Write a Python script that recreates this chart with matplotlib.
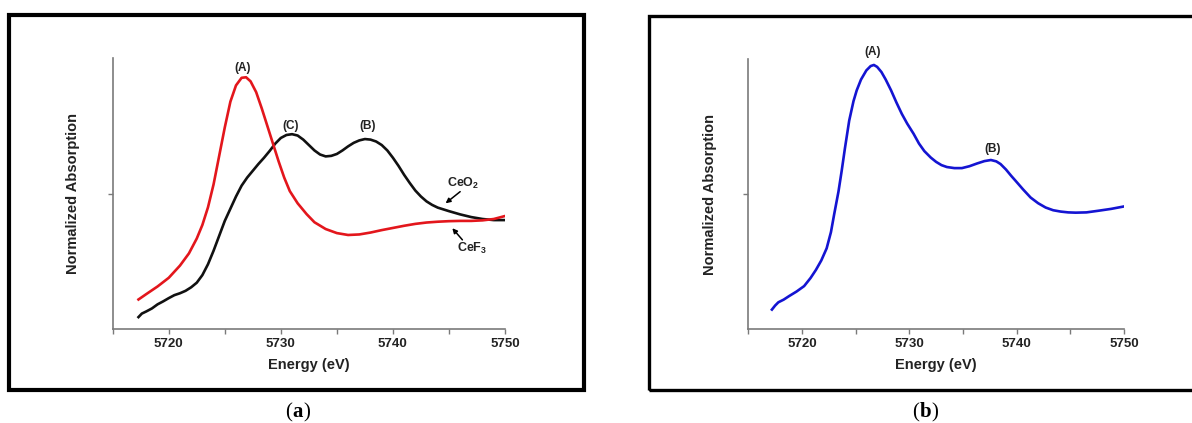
import matplotlib
matplotlib.use("Agg")
import matplotlib.pyplot as plt
from matplotlib.patches import Rectangle
from matplotlib.ticker import MultipleLocator, FixedLocator, NullFormatter

plt.rcParams['font.family'] = ['Liberation Sans', 'DejaVu Sans']
plt.rcParams['font.weight'] = 'bold'
plt.rcParams['mathtext.fontset'] = 'custom'
plt.rcParams['mathtext.rm'] = 'Liberation Sans:bold'
plt.rcParams['mathtext.bf'] = 'Liberation Sans:bold'
plt.rcParams['mathtext.it'] = 'Liberation Sans:bold:italic'
plt.rcParams['mathtext.default'] = 'rm'

# CeF3 reference (red), Ce L3-edge XANES
cef3_energy = [5717.3, 5718.0, 5719.0, 5720.0, 5721.0, 5721.8, 5722.5, 5723.0, 5723.5,
               5724.0, 5724.5, 5725.0, 5725.5, 5726.0, 5726.5, 5726.9, 5727.3, 5727.8,
               5728.3, 5728.8, 5729.3, 5729.8, 5730.3, 5730.8, 5731.5, 5732.3, 5733.0,
               5734.0, 5735.0, 5736.0, 5737.0, 5738.0, 5739.0, 5740.0, 5741.0, 5742.0,
               5743.0, 5744.0, 5745.0, 5746.0, 5747.0, 5748.0, 5749.0, 5750.0]
cef3_abs = [0.110, 0.130, 0.158, 0.190, 0.235, 0.280, 0.335, 0.385, 0.450,
            0.535, 0.640, 0.745, 0.840, 0.900, 0.928, 0.930, 0.915, 0.875,
            0.815, 0.750, 0.685, 0.620, 0.560, 0.510, 0.465, 0.425, 0.395,
            0.370, 0.355, 0.348, 0.350, 0.357, 0.366, 0.374, 0.382, 0.389,
            0.394, 0.397, 0.399, 0.400, 0.400, 0.402, 0.407, 0.418]

# CeO2 reference (black)
ceo2_energy = [5717.3, 5717.6, 5718.0, 5718.5, 5719.0, 5719.5, 5720.0, 5720.5, 5721.0,
               5721.5, 5722.0, 5722.5, 5723.0, 5723.5, 5724.0, 5724.5, 5725.0, 5725.5,
               5726.0, 5726.5, 5727.0, 5727.5, 5728.0, 5728.5, 5729.0, 5729.5, 5730.0,
               5730.5, 5731.0, 5731.5, 5732.0, 5732.5, 5733.0, 5733.5, 5734.0, 5734.5,
               5735.0, 5735.5, 5736.0, 5736.5, 5737.0, 5737.5, 5738.0, 5738.5, 5739.0,
               5739.5, 5740.0, 5740.5, 5741.0, 5741.5, 5742.0, 5742.5, 5743.0, 5743.5,
               5744.0, 5745.0, 5746.0, 5747.0, 5748.0, 5749.0, 5750.0]
ceo2_abs = [0.045, 0.058, 0.066, 0.077, 0.092, 0.103, 0.115, 0.126, 0.133,
            0.142, 0.155, 0.172, 0.200, 0.240, 0.290, 0.345, 0.400, 0.445,
            0.490, 0.530, 0.560, 0.585, 0.610, 0.633, 0.658, 0.685, 0.706,
            0.717, 0.720, 0.715, 0.700, 0.680, 0.660, 0.645, 0.638, 0.640,
            0.647, 0.660, 0.675, 0.688, 0.697, 0.702, 0.700, 0.693, 0.680,
            0.660, 0.633, 0.603, 0.570, 0.540, 0.512, 0.490, 0.472, 0.459,
            0.449, 0.436, 0.424, 0.414, 0.407, 0.403, 0.403]

# sample spectrum (blue)
sample_energy = [5717.2, 5717.5, 5717.8, 5718.3, 5718.8, 5719.5, 5720.2, 5720.8, 5721.3,
                 5721.8, 5722.3, 5722.7, 5723.0, 5723.4, 5723.7, 5724.0, 5724.4, 5724.8,
                 5725.1, 5725.5, 5726.0, 5726.4, 5726.7, 5727.0, 5727.4, 5727.8, 5728.3,
                 5728.8, 5729.3, 5729.8, 5730.4, 5730.9, 5731.4, 5732.0, 5732.5, 5733.0,
                 5733.5, 5734.2, 5734.9, 5735.6, 5736.3, 5737.0, 5737.6, 5738.1, 5738.5,
                 5739.0, 5739.5, 5739.9, 5740.6, 5741.3, 5742.0, 5742.7, 5743.4, 5744.1,
                 5744.8, 5745.5, 5746.5, 5747.6, 5748.8, 5750.0]
sample_abs = [0.073, 0.088, 0.100, 0.110, 0.123, 0.140, 0.160, 0.190, 0.220,
              0.255, 0.300, 0.360, 0.426, 0.510, 0.587, 0.670, 0.773, 0.845,
              0.885, 0.925, 0.959, 0.975, 0.979, 0.972, 0.953, 0.925, 0.885,
              0.840, 0.798, 0.762, 0.724, 0.688, 0.660, 0.636, 0.620, 0.608,
              0.601, 0.597, 0.597, 0.604, 0.614, 0.623, 0.627, 0.622, 0.612,
              0.592, 0.568, 0.550, 0.518, 0.488, 0.467, 0.451, 0.441, 0.436,
              0.433, 0.432, 0.433, 0.439, 0.446, 0.455]

# peak labels: (text, energy, height)
labels_a = [('(A)', 5726.6, 0.963), ('(C)', 5730.9, 0.750), ('(B)', 5737.7, 0.750)]
labels_b = [('(A)', 5726.6, 1.028), ('(B)', 5737.75, 0.667)]

W, H = 1192, 423
fig = plt.figure(figsize=(W / 100, H / 100), dpi=100)


def px_box(x0, y0, x1, y1):
    # pixel box (top-left origin) -> figure fraction [left, bottom, width, height]
    return [x0 / W, 1 - y1 / H, (x1 - x0) / W, (y1 - y0) / H]


def frame(x0, y0, x1, y1, lw):
    l, b, w, h = px_box(x0, y0, x1, y1)
    fig.patches.append(Rectangle((l, b), w, h, transform=fig.transFigure,
                                 fill=False, ec='black', lw=lw))


def style_axes(ax):
    ax.set_xlim(5715, 5750)
    ax.set_ylim(0, 1)
    for side in ('top', 'right'):
        ax.spines[side].set_visible(False)
    for side in ('left', 'bottom'):
        ax.spines[side].set_color('#7a7a7a')
        ax.spines[side].set_linewidth(1.2)
    ax.xaxis.set_major_locator(MultipleLocator(10))
    ax.xaxis.set_minor_locator(MultipleLocator(5))
    ax.yaxis.set_major_locator(FixedLocator([0.5]))
    ax.yaxis.set_major_formatter(NullFormatter())
    ax.tick_params(axis='both', which='both', direction='out', length=3.5,
                   width=1.0, color='#7a7a7a')
    ax.tick_params(axis='x', labelsize=9.5, pad=3, labelcolor='#222222')
    ax.set_xlabel('Energy (eV)', fontsize=10.5, fontweight='bold', color='#222222')
    ax.set_ylabel('Normalized Absorption', fontsize=10.5, fontweight='bold', color='#222222')
    ax.xaxis.set_label_coords(0.5, -0.105)
    ax.yaxis.set_label_coords(-0.083, 0.5)
    ax.patch.set_alpha(0)


frame(9, 15, 584, 390, 3.0)
frame(649, 16, 1205, 390, 2.4)

ax_a = fig.add_axes(px_box(112.7, 58.3, 505, 329.3))
ax_b = fig.add_axes(px_box(748.3, 59.3, 1124, 329.3))

ax_a.plot(ceo2_energy, ceo2_abs, color='#111111', lw=1.9)
ax_a.plot(cef3_energy, cef3_abs, color='#e3161c', lw=1.9)
ax_b.plot(sample_energy, sample_abs, color='#1414d2', lw=1.9)

for ax, labels in ((ax_a, labels_a), (ax_b, labels_b)):
    style_axes(ax)
    for text, x, y in labels:
        ax.text(x, y, text, ha='center', va='center', fontsize=8.5,
                fontweight='bold', color='#222222', clip_on=False)

arrow = dict(arrowstyle='-|>', color='black', lw=1.1, mutation_scale=7,
             shrinkA=0, shrinkB=0)
ax_a.annotate('', xy=(5744.7, 0.465), xytext=(5746.0, 0.508), arrowprops=arrow)
ax_a.text(5746.3, 0.539, r'CeO$_2$', ha='center', va='center', fontsize=9,
          color='#222222')
ax_a.annotate('', xy=(5745.3, 0.373), xytext=(5746.2, 0.330), arrowprops=arrow)
ax_a.text(5747.1, 0.299, r'CeF$_\mathit{3}$', ha='center', va='center', fontsize=9,
          color='#222222')

# panel captions: regular parentheses around a bold letter, chained left to right
serif = ['Liberation Serif', 'DejaVu Serif']
for left, letter in ((285, 'a'), (912, 'b')):
    t_open = fig.text(left / W, 1 - 417 / H, '(', ha='left', va='baseline',
                      fontsize=15, family=serif, fontweight='normal')
    t_mid = fig.text(0, 0, letter, ha='left', va='baseline', fontsize=15,
                     family=serif, fontweight='bold')
    t_mid.set_transform(matplotlib.transforms.offset_copy(
        fig.transFigure, fig=fig, x=0, y=0))
    t_close = fig.text(0, 0, ')', ha='left', va='baseline', fontsize=15,
                       family=serif, fontweight='normal')
    fig.canvas.draw()
    bb = t_open.get_window_extent()
    t_mid.set_position(((bb.x1 + 0.5) / W, 1 - 417 / H))
    fig.canvas.draw()
    bb = t_mid.get_window_extent()
    t_close.set_position(((bb.x1 + 0.5) / W, 1 - 417 / H))

fig.savefig('out.png', dpi=100, facecolor='white')
